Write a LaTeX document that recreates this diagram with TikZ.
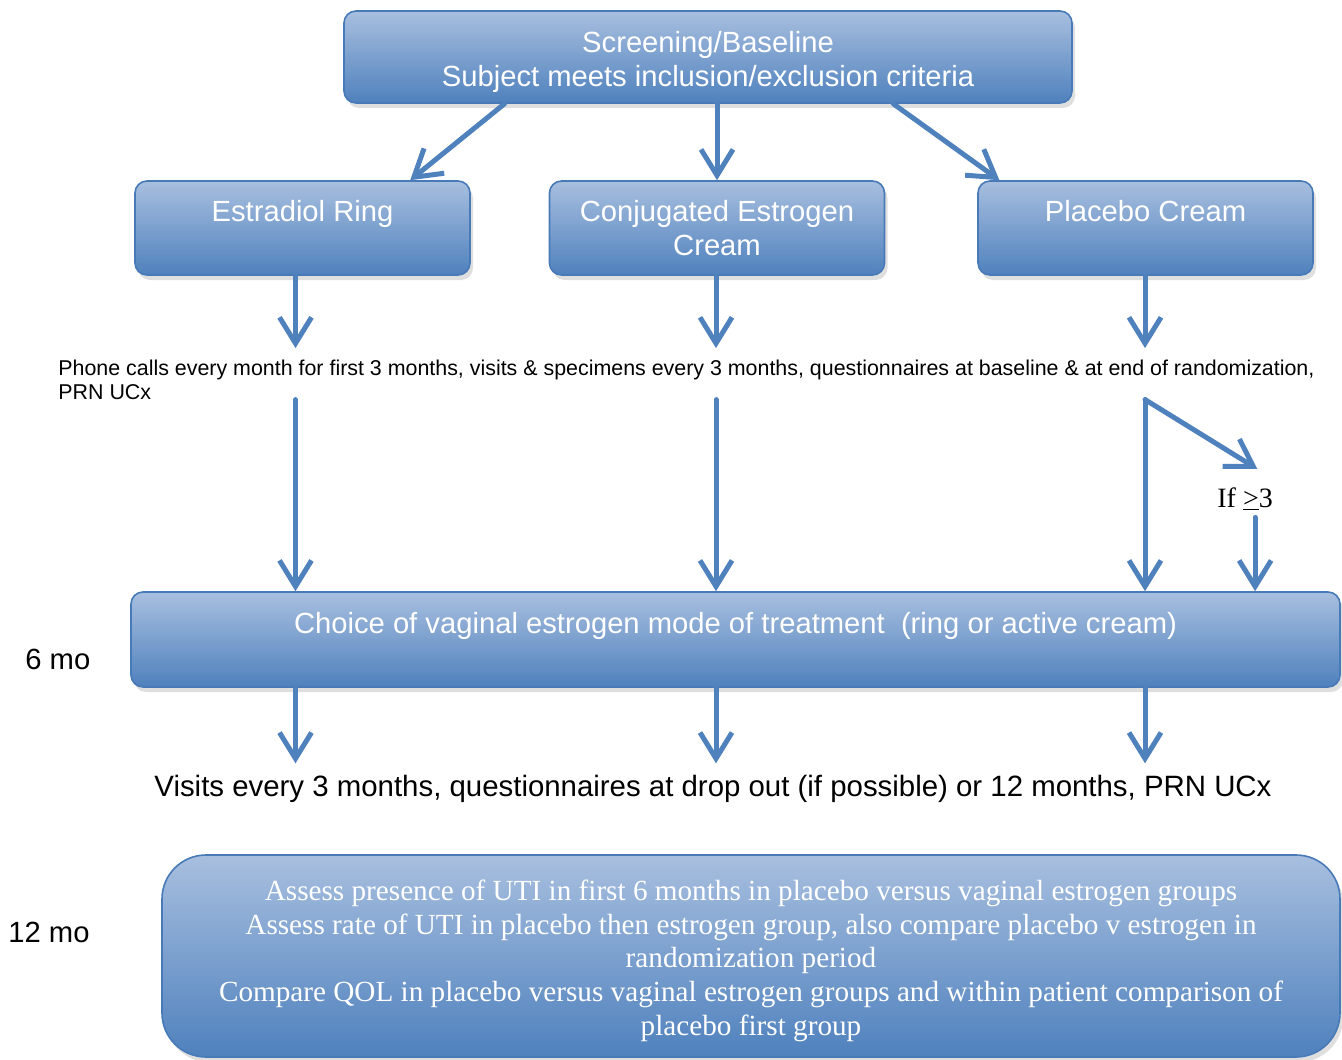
\documentclass[tikz,border=0pt]{standalone}
\usepackage{fontspec}
\setmainfont{Liberation Sans}
\newfontfamily\timesfont{Liberation Serif}
\usetikzlibrary{positioning,arrows.meta,shadows,calc}
\definecolor{BoxTop}{RGB}{168,191,223}
\definecolor{BoxMid}{RGB}{138,167,211}
\definecolor{BoxBottom}{RGB}{79,129,189}
\definecolor{BoxLine}{RGB}{72,122,183}
\definecolor{ArrowBlue}{RGB}{79,129,189}

\begin{document}
\begin{tikzpicture}[
x=0.5pt,y=-0.5pt,
box/.style={
rectangle,rounded corners=6pt,draw=BoxLine,line width=0.8pt,
top color=BoxTop,middle color=BoxMid,bottom color=BoxBottom,
text=white,align=center,inner sep=0pt,
font=\fontsize{14.6}{17}\selectfont,
drop shadow={shadow xshift=1.5pt,shadow yshift=-2.5pt,opacity=0.25}
},
plain/.style={inner sep=0pt,align=left},
arrow/.style={-{Straight Barb[length=13pt,width=16pt]},line width=2.5pt,draw=ArrowBlue,line cap=round}
]
\useasboundingbox (0,0) rectangle (1342,1059);

% boxes
\node[box,minimum width=364pt,minimum height=46pt] (screen) at (708,57)
{\rule{0pt}{16pt}Screening/Baseline\\Subject meets inclusion/exclusion criteria};
\node[box,minimum width=167.5pt,minimum height=47pt] (ring) at (302.5,228) {Estradiol Ring\\\mbox{}};
\node[box,minimum width=167.5pt,minimum height=47pt] (cream) at (717,228) {Conjugated Estrogen\\Cream};
\node[box,minimum width=167.5pt,minimum height=47pt] (placebo) at (1145.5,228) {Placebo Cream\\\mbox{}};
\node[box,minimum width=604.5pt,minimum height=47.5pt] (choice) at (735.5,639.5)
{Choice of vaginal estrogen mode of treatment\ \ (ring or active cream)\\\mbox{}};
\node[box,rounded corners=22pt,minimum width=589pt,minimum height=101pt,
font=\timesfont\fontsize{14.6}{16.8}\selectfont] (assess) at (751,956)
{\rule{0pt}{15pt}Assess presence of UTI in first 6 months in placebo versus vaginal estrogen groups\\
Assess rate of UTI in placebo then estrogen group, also compare placebo v estrogen in\\
randomization period\\
Compare QOL in placebo versus vaginal estrogen groups and within patient comparison of\\
placebo first group};

% texts
\node[plain,anchor=base west,font=\fontsize{10.7}{12}\selectfont] (phone) at (58,399)
{Phone calls every month for first 3 months, visits \& specimens every 3 months, questionnaires at baseline \& at end of randomization,\\PRN UCx};
\node[plain,anchor=base,font=\fontsize{14.7}{16}\selectfont] (visits) at (713,796)
{Visits every 3 months, questionnaires at drop out (if possible) or 12 months, PRN UCx};
\node[plain,anchor=base west,font=\fontsize{14.6}{16}\selectfont] (six) at (25,669) {6 mo};
\node[plain,anchor=base west,font=\fontsize{14.6}{16}\selectfont] (twelve) at (8,942) {12 mo};
\node[plain,anchor=base west,font=\timesfont\fontsize{14}{16}\selectfont] (cond) at (1217,507) {If \underline{>}3};

% arrows
\draw[arrow] ($(screen.south west)!0.221!(screen.south east)$) -- ($(ring.north west)!0.82!(ring.north east)$);
\draw[arrow] (cream.north |- screen.south) -- (cream.north);
\draw[arrow] ($(screen.south west)!0.754!(screen.south east)$) -- ($(placebo.north west)!0.066!(placebo.north east)$);

\foreach \b/\s in {ring/-3.5pt,cream/-0.5pt,placebo/-0.25pt}{
\draw[arrow,shorten >=5.5pt] ([xshift=\s]\b.south) -- ([xshift=\s]\b.south |- phone.north);
\draw[arrow] ([xshift=\s]\b.south |- phone.south) -- ([xshift=\s]\b.south |- choice.north);
\draw[arrow,shorten >=5.5pt] ([xshift=\s]\b.south |- choice.south) -- ([xshift=\s]\b.south |- visits.north);
}

\coordinate (fork) at ([xshift=-0.25pt]placebo.south |- phone.south);
\draw[arrow] (fork) -- ([shift={(-8pt,9pt)}]cond.north east);
\draw[arrow,shorten <=3pt] ([xshift=5pt]cond.south) -- ([xshift=5pt]cond.south |- choice.north);

\end{tikzpicture}
\end{document}
